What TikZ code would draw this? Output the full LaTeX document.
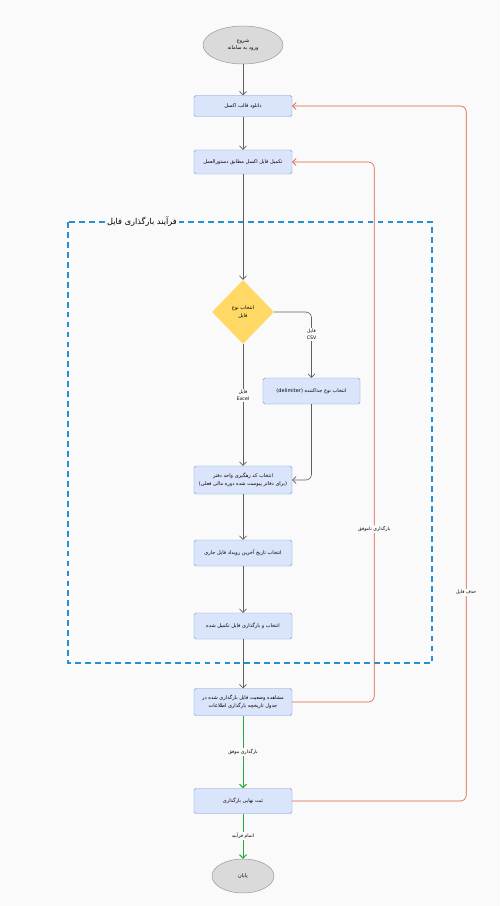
\documentclass[tikz,border=0pt]{standalone}
\usepackage{fontspec}
\setmainfont{DejaVu Sans}
\newfontfamily\arabicfont[Script=Arabic]{DejaVu Sans}
\TeXXeTstate=1
\usetikzlibrary{arrows.meta,shapes.geometric,positioning}
\definecolor{BgClr}{RGB}{250,250,250}
\definecolor{BoxClr}{RGB}{218,229,252}
\definecolor{BoxBorderClr}{RGB}{122,150,214}
\definecolor{EndClr}{RGB}{218,218,218}
\definecolor{EndBorderClr}{RGB}{150,150,150}
\definecolor{ChoiceClr}{RGB}{255,216,102}
\definecolor{GroupClr}{RGB}{38,144,210}
\definecolor{LineClr}{RGB}{95,95,95}
\definecolor{BackClr}{RGB}{216,96,64}
\definecolor{OkClr}{RGB}{38,170,60}

\newcommand{\fa}[1]{{\arabicfont\beginR #1\endR}}

\tikzset{
  stepbox/.style={draw=BoxBorderClr, fill=BoxClr, rounded corners=1.5pt,
    minimum width=2.94cm, minimum height=0.78cm, inner sep=1pt,
    align=center, font=\fontsize{4.3}{6.5}\selectfont},
  endcap/.style={ellipse, draw=EndBorderClr, fill=EndClr, inner sep=0pt,
    align=center, font=\fontsize{4.3}{6.5}\selectfont},
  choice/.style={diamond, fill=ChoiceClr, minimum width=1.86cm,
    minimum height=1.92cm, inner sep=0pt, align=center,
    font=\fontsize{4.3}{6.5}\selectfont},
  flow/.style={draw=LineClr, line width=0.55pt,
    -{Straight Barb[length=3pt,width=6pt]}},
  back/.style={flow, draw=BackClr},
  okflow/.style={flow, draw=OkClr, line width=0.8pt},
  edgelbl/.style={fill=BgClr, inner sep=1pt, align=center,
    font=\fontsize{4}{6}\selectfont},
  grouplbl/.style={fill=BgClr, inner sep=2pt, font=\fontsize{7}{8}\selectfont},
  groupbox/.style={draw=GroupClr, line width=1.2pt,
    dash pattern=on 5pt off 3.5pt}
}

\begin{document}
\begin{tikzpicture}[x=0.03cm,y=-0.03cm]
\fill[BgClr] (0,0) rectangle (500,906);
\useasboundingbox (0,0) rectangle (500,906);

% process group
\draw[groupbox] (68,222) rectangle (432,663);
\node[grouplbl] (grp) at (142,222) {\fa{فرآیند بارگذاری فایل}};

% nodes
\node[endcap, minimum width=2.4cm, minimum height=1.14cm] (start) at (243,45)
  {\fa{شروع}\\\fa{ورود به سامانه}};
\node[stepbox, minimum height=0.63cm] (dl) at (243,106) {\fa{دانلود قالب اکسل}};
\node[stepbox, minimum height=0.72cm] (fill) at (243,162)
  {\fa{تکمیل فایل اکسل مطابق دستورالعمل}};
\node[choice] (type) at (243,312) {\fa{انتخاب نوع}\\\fa{فایل}};
\node[stepbox, minimum width=2.91cm] (csv) at (311.5,391)
  {\fa{انتخاب نوع جداکننده \beginL(delimiter)\endL}};
\node[stepbox, minimum height=0.84cm] (code) at (243,480)
  {\fa{انتخاب کد رهگیری واحد دفتر}\\\fa{(برای دفاتر پیوست شده دوره مالی فعلی)}};
\node[stepbox] (date) at (243,553) {\fa{انتخاب تاریخ آخرین رویداد فایل جاری}};
\node[stepbox] (upload) at (243,626) {\fa{انتخاب و بارگذاری فایل تکمیل شده}};
\node[stepbox, minimum height=0.81cm] (view) at (243,702)
  {\fa{مشاهده وضعیت فایل بارگذاری شده در}\\\fa{جدول تاریخچه بارگذاری اطلاعات}};
\node[stepbox, minimum height=0.75cm] (final) at (243,801) {\fa{ثبت نهایی بارگذاری}};
\node[endcap, minimum width=1.86cm, minimum height=1.02cm] (finish) at (243,876)
  {\fa{پایان}};

% connectors
\draw[flow] (start) -- (dl);
\draw[flow] (dl) -- (fill);
\draw[flow] (fill) -- (type);
\draw[flow, rounded corners=5pt] (type.east) -| node[edgelbl, pos=0.67]
  {\fa{فایل}\\CSV} (csv.north);
\draw[flow] (type.south) -- node[edgelbl, pos=0.42] {\fa{فایل}\\Excel} (code.north);
\draw[flow, rounded corners=5pt] (csv.south) |- (code.east);
\draw[flow] (code) -- (date);
\draw[flow] (date) -- (upload);
\draw[flow] (upload) -- (view);
\draw[okflow] (view) -- node[edgelbl] {\fa{بارگذاری موفق}} (final);
\draw[okflow] (final) -- node[edgelbl] {\fa{اتمام فرآیند}} (finish);
\draw[back, rounded corners=5pt] (view.east) -- ++(82,0) |- node[edgelbl, pos=0.16]
  {\fa{بارگذاری ناموفق}} (fill.east);
\draw[back, rounded corners=5pt] (final.east) -- ++(174,0) |- node[edgelbl, pos=0.15]
  {\fa{حذف فایل}} (dl.east);
\end{tikzpicture}
\end{document}
